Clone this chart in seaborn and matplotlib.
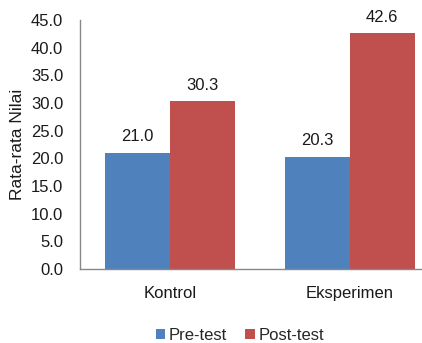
import matplotlib
matplotlib.use("Agg")
import matplotlib.pyplot as plt
import seaborn as sns
import pandas as pd

groups = ["Kontrol", "Eksperimen"]
pre_test = [21.0, 20.3]
post_test = [30.3, 42.6]
series = ["Pre-test", "Post-test"]
colors = ["#4F81BD", "#C0504D"]

df = pd.DataFrame({
    "Kelompok": groups * 2,
    "Tes": [series[0]] * 2 + [series[1]] * 2,
    "Nilai": pre_test + post_test,
})

sns.set_style("white")
plt.rcParams["font.family"] = ["Liberation Sans", "DejaVu Sans"]
plt.rcParams["font.size"] = 12

fig = plt.figure(figsize=(4.22, 3.43), dpi=100)
W, H = 422, 343
ax = fig.add_axes([80 / W, (H - 269) / H, 360 / W, 249 / H])

sns.barplot(data=df, x="Kelompok", y="Nilai", hue="Tes", order=groups,
            hue_order=series, palette=colors, width=0.717, saturation=1,
            edgecolor="none", ax=ax)

for cont in ax.containers:
    ax.bar_label(cont, fmt="%.1f", padding=6, fontsize=12, color="#1a1a1a")

ax.set_ylim(0, 45)
ax.set_xlim(-0.5, 1.5)
ax.set_yticks(range(0, 50, 5))
ax.set_yticklabels([f"{v:.1f}" for v in range(0, 50, 5)])
ax.tick_params(axis="y", length=0, pad=12, labelsize=12, labelcolor="#1a1a1a")
ax.tick_params(axis="x", length=0, pad=12, labelsize=12, labelcolor="#1a1a1a")
ax.set_xlabel("")
ax.set_ylabel("Rata-rata Nilai", fontsize=12.5, color="#1a1a1a", labelpad=4)

for s in ["top", "right"]:
    ax.spines[s].set_visible(False)
for s in ["left", "bottom"]:
    ax.spines[s].set_color("#888888")
    ax.spines[s].set_linewidth(1.0)

handles, labels = ax.get_legend_handles_labels()
ax.legend(handles, labels, loc="center", bbox_to_anchor=(240 / W, 8 / H),
          bbox_transform=fig.transFigure, ncol=2, frameon=False,
          handlelength=0.55, handleheight=0.55, handletextpad=0.25,
          columnspacing=1.1, fontsize=12)

fig.savefig("out.png", dpi=100)
